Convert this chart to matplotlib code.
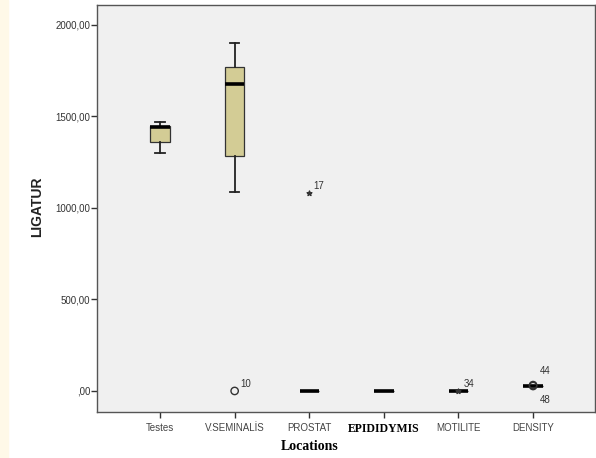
import matplotlib
matplotlib.use("Agg")
import matplotlib.pyplot as plt
from matplotlib.patches import Rectangle

# categories and box statistics
locations = ["Testes", "V.SEMINALİS", "PROSTAT", "EPIDIDYMIS", "MOTILITE", "DENSITY"]
whis_lo = [1300, 1085, 0, 0, 0, 28]
q1 = [1362, 1286, 0, 0, 0, 28]
median = [1440, 1676, 0, 0, 0, 28]
q3 = [1450, 1772, 0, 0, 0, 28]
whis_hi = [1470, 1903, 0, 0, 0, 28]

# outliers: category index, value, case id, marker kind
out_cat = [1, 2, 4, 5, 5]
out_val = [0, 1080, 0, 32, 27]
out_id = ["10", "17", "34", "44", "48"]
out_kind = ["o", "*", "*", "o", "o"]

yticks = [0, 500, 1000, 1500, 2000]
ytick_labels = [",00", "500,00", "1000,00", "1500,00", "2000,00"]

fig = plt.figure(figsize=(5.96, 4.58), dpi=100)
fig.patches.append(Rectangle((0, 0), 8 / 596, 1, transform=fig.transFigure,
                             color="#fff9e8", zorder=0))
ax = fig.add_axes([97 / 596, 1 - 412 / 458, 498 / 596, 407.5 / 458])
ax.set_facecolor("#f0f0f0")

pos = list(range(1, len(locations) + 1))
stats = []
for i in range(len(locations)):
    stats.append(dict(med=median[i], q1=q1[i], q3=q3[i],
                      whislo=whis_lo[i], whishi=whis_hi[i], fliers=[]))

ax.bxp(stats, positions=pos, widths=0.26, patch_artist=True, showfliers=False,
       boxprops=dict(facecolor="#d3cc95", edgecolor="#333333", linewidth=0.9),
       medianprops=dict(color="black", linewidth=2.6, solid_capstyle="butt"),
       whiskerprops=dict(color="#222222", linewidth=1.3),
       capprops=dict(color="#222222", linewidth=1.3),
       capwidths=0.13)

for c, v, lab, k in zip(out_cat, out_val, out_id, out_kind):
    x = pos[c]
    if k == "o":
        ax.scatter([x], [v], s=28, marker="o", facecolors="none",
                   edgecolors="#333333", linewidths=1.0, zorder=5)
    else:
        ax.scatter([x], [v], s=13, marker="*", color="#333333", zorder=5)

# case labels
label_offsets = {"10": (4, 3), "17": (3, 3), "34": (4, 3), "44": (5, 8), "48": (5, -12)}
for c, v, lab in zip(out_cat, out_val, out_id):
    dx, dy = label_offsets[lab]
    ax.annotate(lab, (pos[c], v), xytext=(dx, dy), textcoords="offset points",
                fontsize=7, color="#333333", family="Liberation Sans")

ax.set_xlim(0.155, 6.83)
ax.set_ylim(-115, 2112)
ax.set_yticks(yticks)
ax.set_yticklabels(ytick_labels, family="Liberation Sans", fontsize=7, color="#333333")
ax.set_xticks(pos)
ax.set_xticklabels(locations, family="Liberation Sans", fontsize=7, color="#444444")
ax.get_xticklabels()[3].set_fontfamily("Liberation Serif")
ax.get_xticklabels()[3].set_fontweight("bold")
ax.get_xticklabels()[3].set_fontsize(8.5)
ax.get_xticklabels()[3].set_color("black")
ax.tick_params(axis="y", length=4, width=1, color="#333333", pad=1)
ax.tick_params(axis="x", length=4, width=1, color="#333333", pad=4)
for s in ax.spines.values():
    s.set_color("#555555")
    s.set_linewidth(1.0)

fig.text(37 / 596, 1 - 207 / 458, "LIGATUR", rotation=90, ha="center", va="center",
         family="Liberation Sans", fontweight="bold", fontsize=10, color="#222222")
fig.text(310 / 596, 1 - 447 / 458, "Locations", ha="center", va="center",
         family="Liberation Serif", fontweight="bold", fontsize=10, color="black")

fig.savefig("out.png", dpi=100)
